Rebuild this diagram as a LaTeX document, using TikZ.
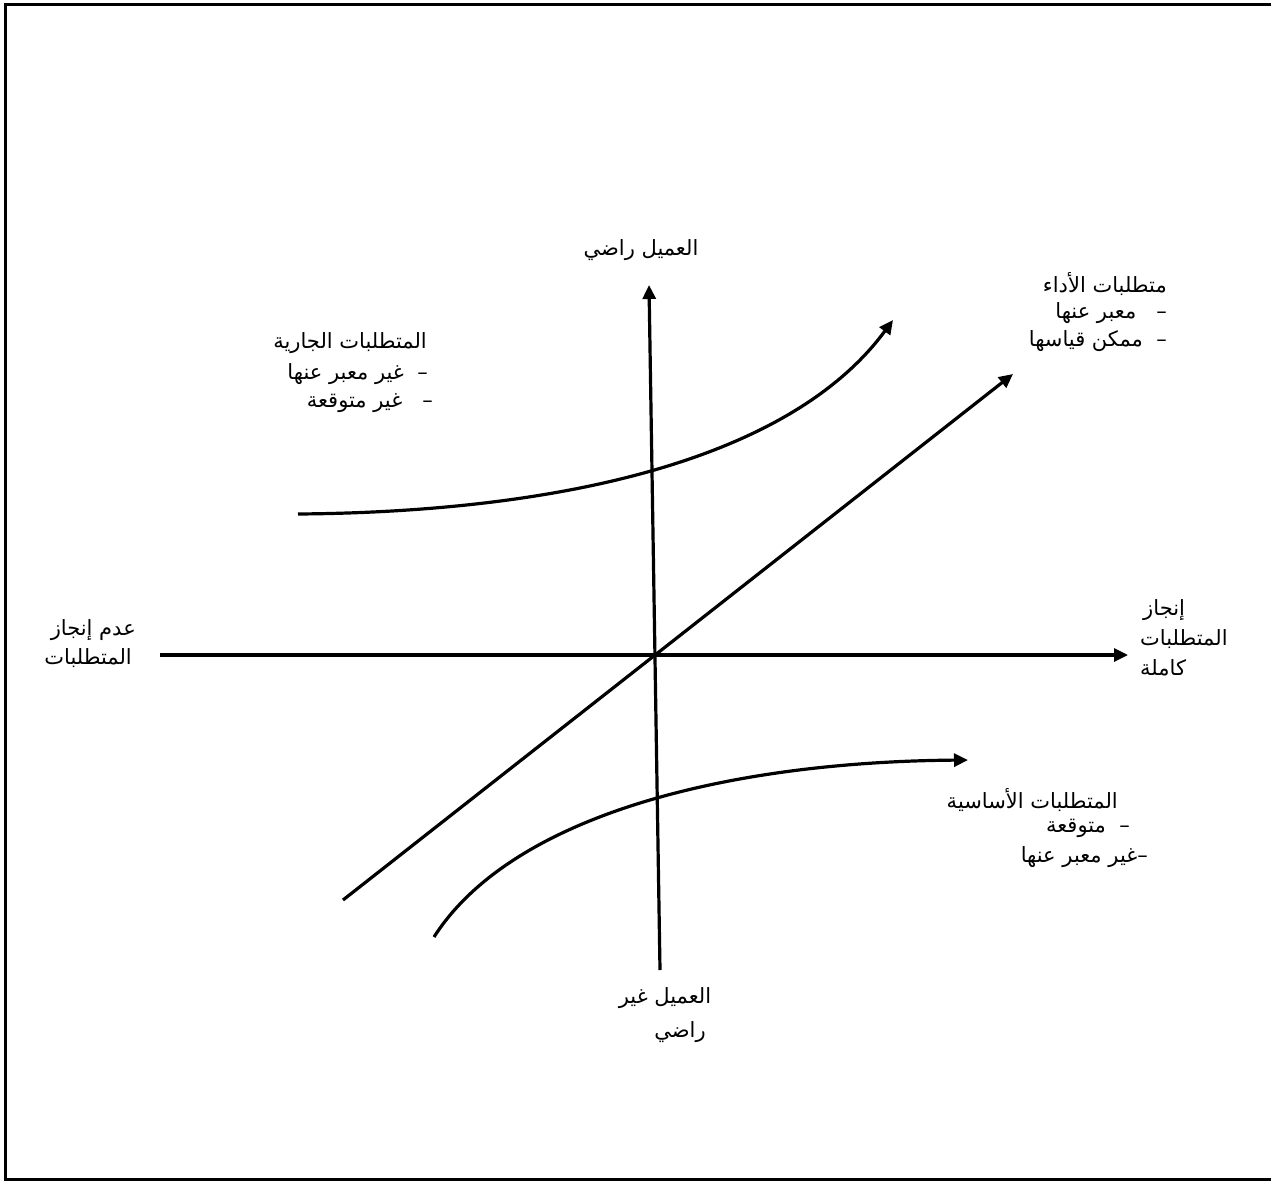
\documentclass[tikz,border=0pt]{standalone}
\usepackage{fontspec}
\newfontfamily\arabicfont[Script=Arabic]{DejaVu Sans}
\TeXXeTstate=1
\usetikzlibrary{arrows.meta}
\begin{document}
\begin{tikzpicture}[x=1pt,y=-1pt,
  lbl/.style={inner sep=0pt,font={\arabicfont\fontsize{21}{25}\selectfont}},
  ax/.style={line width=3.2pt,-{Triangle[width=13pt,length=14pt]}},
  crv/.style={line width=3.2pt,-{Triangle[width=13pt,length=14pt]}}]
\useasboundingbox (0,0) rectangle (1271,1182);
\draw[line width=3pt] (1275,5) -- (5,5) -- (5,1179) -- (1275,1179);
% coordinates
\coordinate (hl) at (160,655);
\coordinate (hr) at (1128,655);
\coordinate (vb) at (660,970);
\coordinate (vt) at (649,285);
\coordinate (dl) at (343,900);
\coordinate (dr) at (1013,374);
\coordinate (ua) at (298,514);
\coordinate (ub) at (893,320);
\coordinate (la) at (434,937);
\coordinate (lb) at (968,760);
% axes and curves
\draw[ax] (hl) -- (hr);
\draw[ax] (vb) -- (vt);
\draw[ax] (dl) -- (dr);
\draw[crv] (ua) .. controls (560,512) and (790,460) .. (ub);
\draw[crv] (la) .. controls (510,818) and (720,762) .. (lb);
% labels
\node[lbl] (top) at (641,250) {\beginR العميل راضي\endR};
\node[lbl,anchor=east] (p1) at (1167,284) {\beginR متطلبات الأداء\endR};
\node[lbl,anchor=east] (p2) at (1167,313) {\beginR –\ \ \ معبر عنها\endR};
\node[lbl,anchor=east] (p3) at (1167,341) {\beginR –\ \ ممكن قياسها\endR};
\node[lbl,anchor=east] (e1) at (427,343) {\beginR المتطلبات الجارية\endR};
\node[lbl,anchor=east] (e2) at (428,374) {\beginR –\ \ غير معبر عنها\endR};
\node[lbl,anchor=east] (e3) at (433,403) {\beginR –\ \ \ غير متوقعة\endR};
\node[lbl,anchor=east] (l1) at (136,630) {\beginR عدم إنجاز\endR};
\node[lbl,anchor=east] (l2) at (132,658) {\beginR المتطلبات\endR};
\node[lbl,anchor=west] (r1) at (1143,610) {\beginR إنجاز\endR};
\node[lbl,anchor=west] (r2) at (1140,639) {\beginR المتطلبات\endR};
\node[lbl,anchor=west] (r3) at (1140,668) {\beginR كاملة\endR};
\node[lbl,anchor=east] (b1) at (1118,800) {\beginR المتطلبات الأساسية\endR};
\node[lbl,anchor=east] (b2) at (1130,828) {\beginR –\ \ متوقعة\endR};
\node[lbl,anchor=east] (b3) at (1148,857) {\beginR –غير معبر عنها\endR};
\node[lbl] (d1) at (665,998) {\beginR العميل غير\endR};
\node[lbl] (d2) at (680,1032) {\beginR راضي\endR};
\end{tikzpicture}
\end{document}
